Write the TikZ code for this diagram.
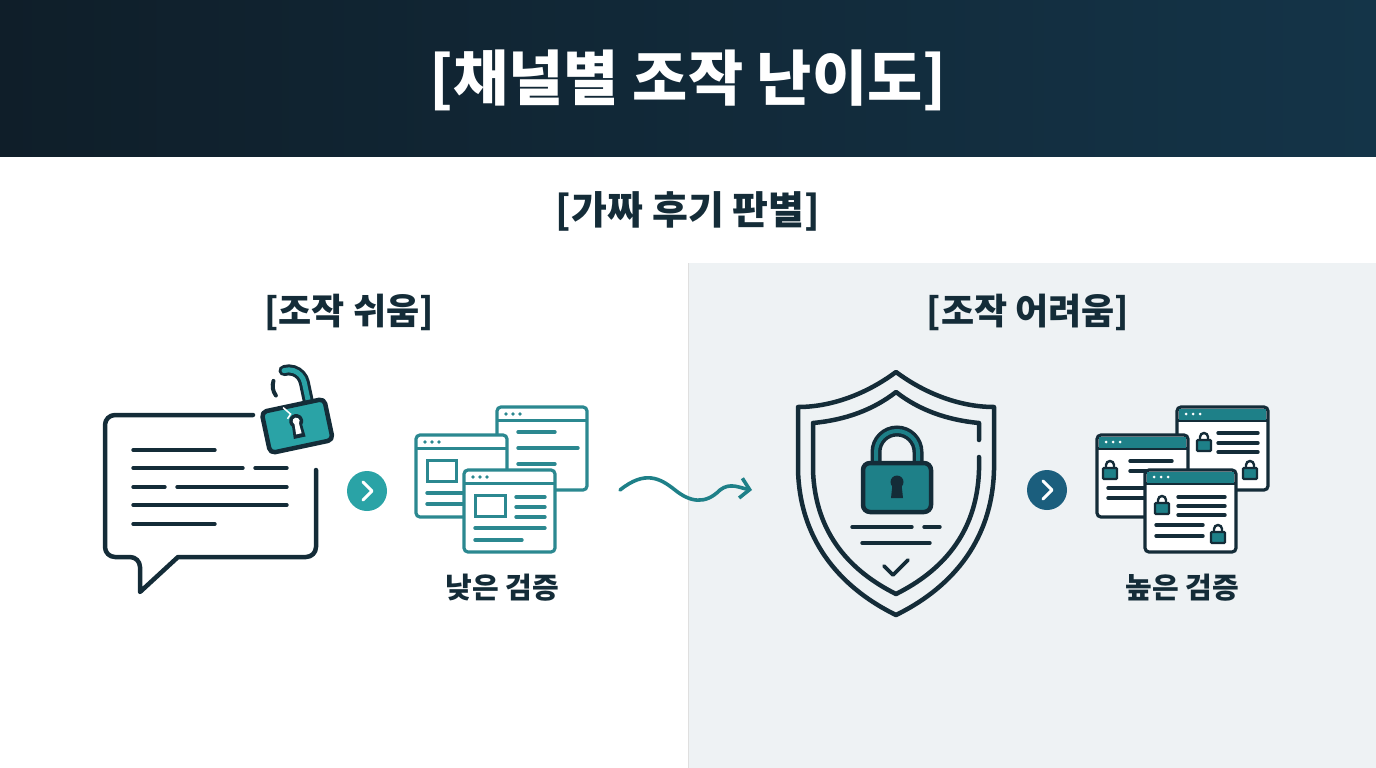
\documentclass[tikz,border=0pt]{standalone}
\usepackage{fontspec}
\newfontfamily\kr{Noto Sans CJK KR}
\usetikzlibrary{arrows.meta}
\definecolor{navy}{HTML}{142C38}
\definecolor{hdA}{HTML}{0F1E29}
\definecolor{hdB}{HTML}{143448}
\definecolor{teal}{HTML}{2AA3A6}
\definecolor{tealdk}{HTML}{1E8088}
\definecolor{winteal}{HTML}{2B8890}
\definecolor{dotnavy}{HTML}{1B5E7D}
\definecolor{panel}{HTML}{EEF2F4}
\tikzset{
  ico/.style={draw=navy, line width=4.5pt, line cap=round, line join=round},
  win/.style={draw=winteal, line width=3.2pt, fill=white, rounded corners=4pt},
  txt/.style={line width=3.4pt, line cap=round},
  minilock/.style={draw=navy, line width=2.4pt, fill=tealdk, rounded corners=1pt},
}
% browser window: x1,y1,x2,y2 (pixel coords)
\newcommand\browserwin[5][winteal]{%
  \draw[win, draw=#1] (#2,#3) rectangle (#4,#5);
  \draw[#1, line width=3pt] (#2,#3+13) -- (#4,#3+13);
  \foreach \d in {0,7,14} \fill[#1] (#2+9+\d,#3+7) circle (1.8pt);
}
\newcommand\smalllock[2]{%
  \draw[navy, line width=2.4pt] (#1-4,#2) -- (#1-4,#2-3) arc (180:360:4) -- (#1+4,#2);
  \draw[minilock] (#1-7,#2) rectangle (#1+7,#2+11);
}
\begin{document}
\begin{tikzpicture}[x=1pt,y=-1pt]
\useasboundingbox (0,0) rectangle (1376,768);
% header and panel
\shade[left color=hdA, right color=hdB] (0,0) rectangle (1376,156);
\fill[panel] (688,263) rectangle (1376,768);
\draw[gray!25, line width=0.8pt] (688,263) -- (688,768);
\node[text=white, font=\kr\bfseries\fontsize{60}{66}\selectfont] (title) at (688,80) {[채널별 조작 난이도]};
\node[text=navy, font=\kr\bfseries\fontsize{39}{44}\selectfont] (sub) at (688,211) {[가짜 후기 판별]};
\node[text=navy, font=\kr\bfseries\fontsize{36}{42}\selectfont] (easy) at (349,312) {[조작 쉬움]};
\node[text=navy, font=\kr\bfseries\fontsize{36}{42}\selectfont] (hard) at (1028,312) {[조작 어려움]};
\node[text=navy, font=\kr\bfseries\fontsize{29}{34}\selectfont] (low) at (502,588) {낮은 검증};
\node[text=navy, font=\kr\bfseries\fontsize{29}{34}\selectfont] (high) at (1182,588) {높은 검증};

% speech bubble
\draw[ico, rounded corners=10pt] (253,415) -- (105,415) -- (105,557) -- (140,557)
  [sharp corners] -- (140,592) -- (178,557) [rounded corners=10pt] -- (316,557) -- (316,470);
\foreach \ya/\xa/\xb in {450/133/215, 468/133/243, 468/255/287, 487/133/165, 487/177/287, 505/133/287, 524/133/215}
  \draw[navy, txt] (\xa,\ya) -- (\xb,\ya);
% broken open lock
\begin{scope}[shift={(297,425)}, rotate=12]
  \draw[navy, line width=4pt, line cap=round] (0,-40) ++(-150:16) arc (-150:-205:16);
  \draw[navy, line width=11pt, line cap=round] (16,-20) -- (16,-40) arc (0:-95:16);
  \draw[teal, line width=5pt, line cap=round] (16,-20) -- (16,-40) arc (0:-95:16);
  \draw[ico, fill=teal, rounded corners=5pt] (-32,-20) rectangle (32,22);
  \draw[white, line width=1.5pt] (-10,-20) -- (-4,-12) -- (-8,-8);
  \fill[navy] (0,-4) circle (7) (-5,-2) -- (5,-2) -- (6,13) -- (-6,13) -- cycle;
  \fill[white] (0,-4) circle (3.5) (-2.2,-2) -- (2.2,-2) -- (2.8,9) -- (-2.8,9) -- cycle;
\end{scope}
% step chevrons
\fill[teal] (367,491) circle (20);
\draw[white, line width=3pt, line cap=round, line join=round] (363,482) -- (372,491) -- (363,500);
\fill[dotnavy] (1047,490) circle (20);
\draw[white, line width=3pt, line cap=round, line join=round] (1043,481) -- (1052,490) -- (1043,499);

% low-verification windows
\browserwin{497}{407}{587}{490}
\foreach \ya/\xb in {432/555, 448/578, 464/555} \draw[winteal, txt] (518,\ya) -- (\xb,\ya);
\browserwin{416}{435}{507}{517}
\draw[winteal, line width=3pt] (427,460) rectangle (456,481);
\foreach \ya in {493,504} \draw[winteal, txt] (427,\ya) -- (470,\ya);
\browserwin{464}{470}{555}{552}
\draw[winteal, line width=3pt] (475,495) rectangle (505,516);
\foreach \ya/\xa/\xb in {497/516/545, 507/516/545, 517/516/545, 528/475/545, 540/475/522}
  \draw[winteal, txt] (\xa,\ya) -- (\xb,\ya);

% wavy arrow
\draw[tealdk, line width=3.6pt, line cap=round, -{Straight Barb[length=9pt, width=20pt]}]
  (620,490) .. controls (645,470) and (660,478) .. (675,490)
  .. controls (690,502) and (705,505) .. (720,490) .. controls (730,482) and (740,488) .. (752,490);

% shield
\draw[ico] (896,372) .. controls (865,395) and (830,407) .. (798,407) -- (798,470)
  .. controls (800,545) and (845,590) .. (896,615) .. controls (947,590) and (992,545) .. (994,470)
  -- (994,407) .. controls (962,407) and (927,395) .. (896,372) -- cycle;
\draw[ico] (979,457) -- (979,470) .. controls (977,535) and (940,572) .. (896,594)
  .. controls (852,572) and (815,535) .. (813,470) -- (813,423)
  .. controls (845,420) and (873,410) .. (896,392) .. controls (919,410) and (947,420) .. (979,423) -- (979,440);
\draw[navy, line width=11pt] (876,465) -- (876,452) arc (180:360:21) -- (918,465);
\draw[tealdk, line width=4pt] (876,465) -- (876,452) arc (180:360:21) -- (918,465);
\draw[ico, fill=tealdk, rounded corners=7pt] (863,463) rectangle (931,512);
\fill[navy] (897,482) circle (6.5) (892.5,484) -- (901.5,484) -- (903,498) -- (891,498) -- cycle;
\foreach \ya/\xa/\xb in {527/852/912, 527/924/940, 543/862/930} \draw[navy, txt] (\xa,\ya) -- (\xb,\ya);
\draw[navy, line width=3.6pt, line cap=round, line join=round] (884,566) -- (893,575) -- (908,560);

% high-verification windows
\browserwin[navy]{1177}{407}{1268}{490}
\fill[tealdk] (1179,409) rectangle (1266,419.5);
\foreach \d in {0,7,14} \fill[white] (1186+\d,414) circle (1.5pt);
\smalllock{1204}{440}
\smalllock{1250}{468}
\foreach \ya in {433,443,452} \draw[navy, txt] (1218,\ya) -- (1258,\ya);
\browserwin[navy]{1097}{435}{1188}{517}
\fill[tealdk] (1099,437) rectangle (1186,447.5);
\foreach \d in {0,7,14} \fill[white] (1106+\d,442) circle (1.5pt);
\smalllock{1110}{468}
\foreach \ya/\xa in {461/1130, 471/1130, 488/1108, 498/1108} \draw[navy, txt] (\xa,\ya) -- (1172,\ya);
\browserwin[navy]{1145}{470}{1236}{552}
\fill[tealdk] (1147,472) rectangle (1234,482.5);
\foreach \d in {0,7,14} \fill[white] (1154+\d,477) circle (1.5pt);
\smalllock{1162}{503}
\smalllock{1218}{532}
\foreach \ya/\xa/\xb in {497/1178/1225, 506/1178/1225, 515/1178/1225, 525/1156/1203, 536/1156/1203}
  \draw[navy, txt] (\xa,\ya) -- (\xb,\ya);
\end{tikzpicture}
\end{document}
